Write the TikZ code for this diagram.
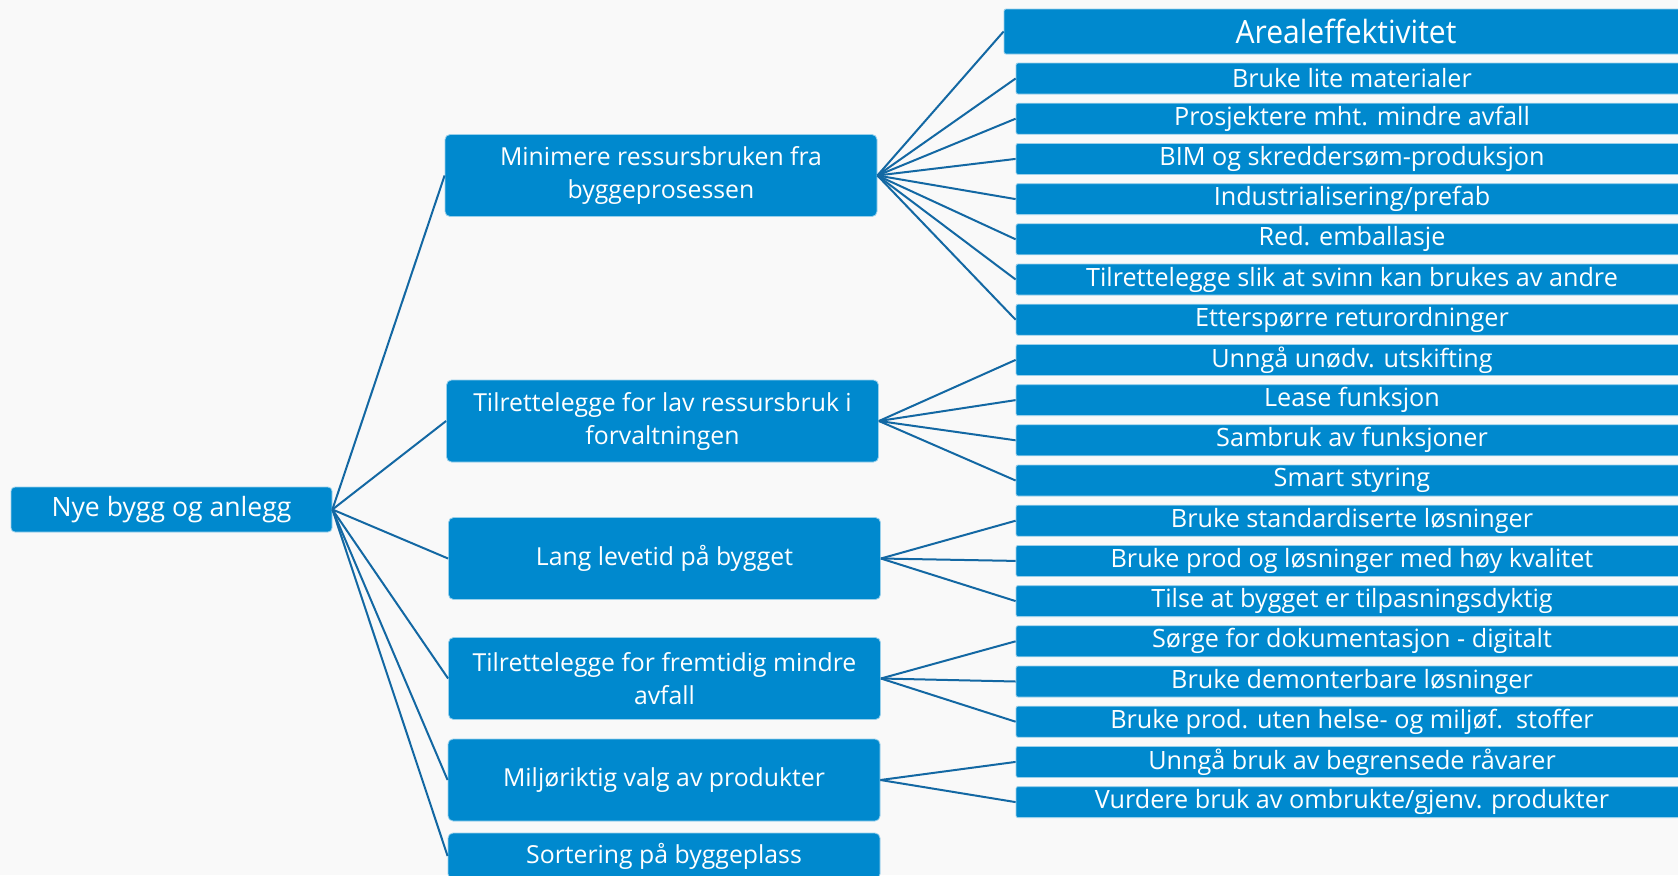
\documentclass[tikz,border=0pt]{standalone}
\usepackage{fontspec}
\setmainfont{Open Sans}
\newfontfamily\narrowfont[FakeStretch=0.94]{Open Sans}
\usepackage{tikz}
\usetikzlibrary{positioning}
\usepackage{xcolor}
\definecolor{boxblue}{RGB}{0,137,206}
\definecolor{linkblue}{RGB}{19,104,163}
\definecolor{paper}{RGB}{249,249,249}

\begin{document}
\begin{tikzpicture}[x=0.5pt, y=-0.5pt,
    box/.style={fill=boxblue, draw=white!60!boxblue, line width=0.4pt, text=white, inner sep=0pt, align=center},
    mid/.style={box, rounded corners=2.5pt, minimum width=216pt, minimum height=41pt, font=\fontsize{12.4}{16.5}\selectfont},
    leaf/.style={box, rounded corners=1pt, minimum width=336pt, minimum height=15.5pt, font=\fontsize{12.6}{13}\selectfont},
    link/.style={draw=linkblue, line width=1pt}]
    \useasboundingbox (0,0) rectangle (1678,875);
    \clip (0,0) rectangle (1678,875);
    \fill[paper] (0,0) rectangle (1678,875);

    % root and main branches
    \node[box, rounded corners=2pt, minimum width=160.5pt, minimum height=22.5pt, font=\fontsize{13.3}{16}\selectfont] (root) at (171.5,509.5) {Nye bygg og anlegg};
    \node[mid] (m1) at (661,175.5) {Minimere ressursbruken fra\\byggeprosessen};
    \node[mid] (m2) at (662.5,421) {Tilrettelegge for lav ressursbruk i\\forvaltningen};
    \node[mid] (m3) at (664.5,558.5) {Lang levetid på bygget};
    \node[mid] (m4) at (664.5,678.5) {Tilrettelegge for fremtidig mindre\\avfall};
    \node[mid] (m5) at (664,780) {Miljøriktig valg av produkter};
    \node[mid, minimum height=23pt] (m6) at (664,856) {Sortering på byggeplass};

    % measures
    \node[box, rounded corners=1pt, minimum width=342pt, minimum height=22.5pt, font=\narrowfont\fontsize{16}{18}\selectfont] (r0) at (1346,31.5) {Arealeffektivitet};
    \foreach \txt [count=\i] in {Bruke lite materialer, Prosjektere mht. mindre avfall,
        BIM og skreddersøm-produksjon, Industrialisering/prefab, Red. emballasje,
        Tilrettelegge slik at svinn kan brukes av andre, Etterspørre returordninger,
        Unngå unødv. utskifting, Lease funksjon, Sambruk av funksjoner, Smart styring,
        Bruke standardiserte løsninger, Bruke prod og løsninger med høy kvalitet,
        Tilse at bygget er tilpasningsdyktig, Sørge for dokumentasjon - digitalt,
        Bruke demonterbare løsninger, Bruke prod. uten helse- og miljøf.\ \ stoffer,
        Unngå bruk av begrensede råvarer, Vurdere bruk av ombrukte/gjenv. produkter} {
        \node[leaf] (r\i) at (1352, {78.5+(\i-1)*40.2}) {\txt};
    }

    % connectors
    \foreach \m in {1,...,6}
        \draw[link] (root.east) -- (m\m.west);
    \foreach \i in {0,...,7}
        \draw[link] (m1.east) -- (r\i.west);
    \foreach \i in {8,...,11}
        \draw[link] (m2.east) -- (r\i.west);
    \foreach \i in {12,...,14}
        \draw[link] (m3.east) -- (r\i.west);
    \foreach \i in {15,...,17}
        \draw[link] (m4.east) -- (r\i.west);
    \foreach \i in {18,19}
        \draw[link] (m5.east) -- (r\i.west);
\end{tikzpicture}
\end{document}
